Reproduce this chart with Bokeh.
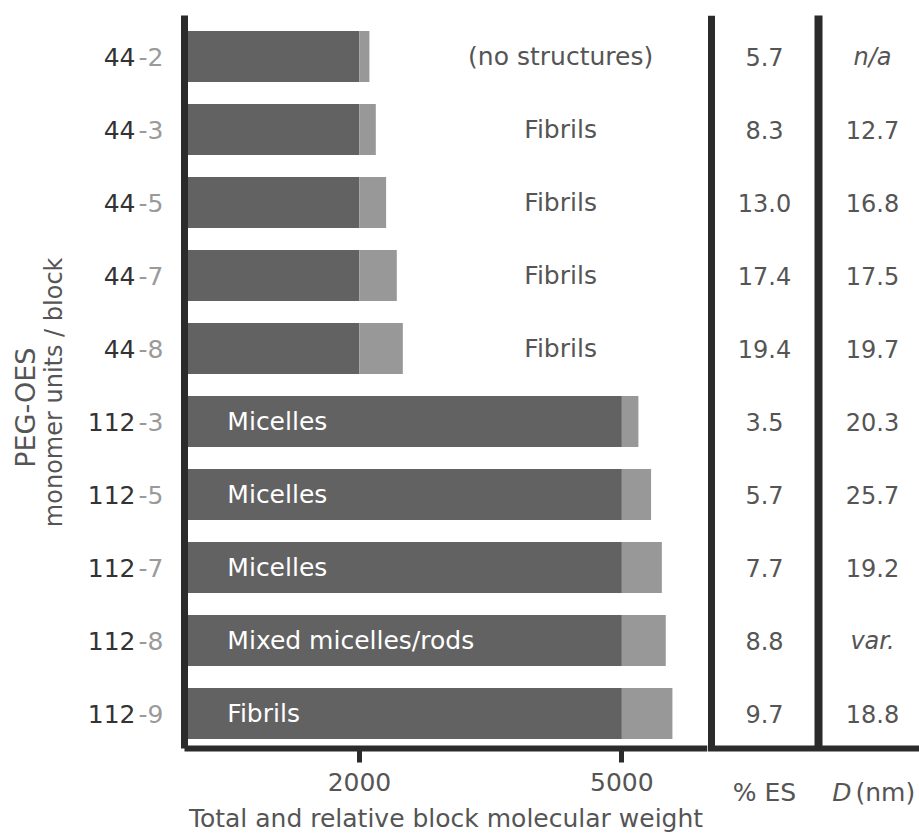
from math import pi
from bokeh.plotting import figure
from bokeh.layouts import row
from bokeh.models import Range1d, FixedTicker, LinearAxis
from bokeh.core.properties import value
from bokeh.embed import file_html
from bokeh.resources import INLINE

# ---------------- data ----------------
peg_units = ["44", "44", "44", "44", "44", "112", "112", "112", "112", "112"]
oes_units = ["-2", "-3", "-5", "-7", "-8", "-3", "-5", "-7", "-8", "-9"]
peg_mw = [2000, 2000, 2000, 2000, 2000, 5000, 5000, 5000, 5000, 5000]
oes_mw = [114, 187, 305, 427, 496, 189, 334, 457, 502, 578]
structures = ["(no structures)", "Fibrils", "Fibrils", "Fibrils", "Fibrils",
              "Micelles", "Micelles", "Micelles", "Mixed micelles/rods", "Fibrils"]
pct_es = ["5.7", "8.3", "13.0", "17.4", "19.4", "3.5", "5.7", "7.7", "8.8", "9.7"]
diameter = ["n/a", "12.7", "16.8", "17.5", "19.7", "20.3", "25.7", "19.2", "var.", "18.8"]
diameter_italic = [True, False, False, False, False, False, False, False, True, False]
x_ticks = [2000, 5000]

# ---------------- style / layout ----------------
FONT = "DejaVu Sans"
DARK = "#626262"
LIGHT = "#989898"
INK = "#2b2b2b"
TXT = "#555555"

n = len(peg_mw)
rows = list(range(n))
total = [a + b for a, b in zip(peg_mw, oes_mw)]

TOP, FRAME_H, BOTTOM = 15, 733, 90
Y_TOP, Y_BOT = -0.562, 9.479
PX_PER_ROW = FRAME_H / (Y_BOT - Y_TOP)
y_rng = Range1d(Y_BOT, Y_TOP)

common = dict(output_backend="svg", toolbar_location=None, frame_height=FRAME_H,
              min_border_top=TOP, min_border_bottom=BOTTOM, y_range=y_rng)


def clean(fig):
    fig.outline_line_color = None
    fig.xgrid.visible = False
    fig.ygrid.visible = False


# ---- left strip: y-axis title ----
LW = 80
left = figure(frame_width=LW, x_range=Range1d(0, LW), min_border_left=0,
              min_border_right=0, x_axis_type=None, y_axis_type=None, **common)
left.outline_line_color = None
left.text(x=[25], y=[4.81], text=["PEG-OES"], angle=pi / 2, text_align="center",
          text_baseline="middle", text_font=value(FONT), text_font_size="27px",
          text_color=TXT)
left.text(x=[53], y=[4.6], text=["monomer units / block"], angle=pi / 2,
          text_align="center", text_baseline="middle", text_font=value(FONT),
          text_font_size="24px", text_color=TXT)

# ---- main bar chart ----
X_END = 5979
p = figure(frame_width=523, x_range=Range1d(0, X_END), min_border_left=104,
           min_border_right=0, **common)
clean(p)

p.hbar(y=rows, left=0, right=peg_mw, height=0.70, fill_color=DARK, line_color=None)
p.hbar(y=rows, left=peg_mw, right=total, height=0.70, fill_color=LIGHT, line_color=None)

out_idx = [i for i in rows if peg_mw[i] < 3000]
in_idx = [i for i in rows if peg_mw[i] >= 3000]
p.text(x=[4300] * len(out_idx), y=[rows[i] for i in out_idx],
       text=[structures[i] for i in out_idx], text_align="center",
       text_baseline="middle", text_font=value(FONT), text_font_size="25px",
       text_color=TXT)
p.text(x=[490] * len(in_idx), y=[rows[i] for i in in_idx],
       text=[structures[i] for i in in_idx], text_align="left",
       text_baseline="middle", text_font=value(FONT), text_font_size="25px",
       text_color="white")

p.xaxis.ticker = FixedTicker(ticks=x_ticks)
p.xaxis.minor_tick_line_color = None
p.xaxis.major_tick_in = 0
p.xaxis.major_tick_out = 14
p.xaxis.major_tick_line_width = 5
p.xaxis.major_tick_line_color = INK
p.xaxis.axis_line_width = 6
p.xaxis.axis_line_color = INK
p.xaxis.major_label_standoff = 10
p.xaxis.major_label_text_font = FONT
p.xaxis.major_label_text_font_size = "25px"
p.xaxis.major_label_text_color = TXT
p.xaxis.axis_label = "Total and relative block molecular weight"
p.xaxis.axis_label_standoff = 10
p.xaxis.axis_label_text_font = FONT
p.xaxis.axis_label_text_font_size = "25px"
p.xaxis.axis_label_text_font_style = "normal"
p.xaxis.axis_label_text_color = TXT

# inner y axis: OES part of labels (light)
p.yaxis.ticker = FixedTicker(ticks=rows)
p.yaxis.major_label_overrides = {i: oes_units[i] for i in rows}
p.yaxis.minor_tick_line_color = None
p.yaxis.major_tick_line_color = None
p.yaxis.major_tick_in = 0
p.yaxis.major_tick_out = 0
p.yaxis.major_label_standoff = 21
p.yaxis.major_label_text_font = FONT
p.yaxis.major_label_text_font_size = "25px"
p.yaxis.major_label_text_color = "#9a9a9a"
p.yaxis.axis_line_width = 7
p.yaxis.axis_line_color = INK

# outer y axis: PEG part of labels (dark)
outer = LinearAxis(ticker=FixedTicker(ticks=rows),
                   major_label_overrides={i: peg_units[i] for i in rows},
                   axis_line_color=None, major_tick_line_color=None,
                   minor_tick_line_color=None, major_tick_in=0, major_tick_out=0,
                   major_label_standoff=0, major_label_text_font=FONT,
                   major_label_text_font_size="25px",
                   major_label_text_color="#333333")
p.add_layout(outer, "left")

# ---- table columns (frame runs to the bottom so headers are drawn inside it) ----
TW = 212
T_FRAME_H = FRAME_H + BOTTOM
t = figure(output_backend="svg", toolbar_location=None, frame_width=TW,
           frame_height=T_FRAME_H, min_border_top=TOP, min_border_bottom=0,
           min_border_left=0, min_border_right=0,
           x_range=Range1d(0, TW),
           y_range=Range1d(Y_TOP + T_FRAME_H / PX_PER_ROW, Y_TOP),
           x_axis_type=None, y_axis_type=None)
clean(t)
ES_X, D_X = 57, 165
SEP1, SEP2 = 4, 111
HEAD_Y = Y_BOT + 0.6

# column separators and continuation of the baseline
t.segment(x0=[SEP1, SEP2], y0=[Y_TOP, Y_TOP - 0.05], x1=[SEP1, SEP2], y1=[Y_BOT, Y_BOT],
          line_color=INK, line_width=[7, 8])
t.segment(x0=[0], y0=[Y_BOT], x1=[TW], y1=[Y_BOT], line_color=INK, line_width=6)

t.text(x=[ES_X] * n, y=rows, text=pct_es, text_align="center",
       text_baseline="middle", text_font=value(FONT), text_font_size="24px",
       text_color=TXT)
norm = [i for i in rows if not diameter_italic[i]]
ital = [i for i in rows if diameter_italic[i]]
t.text(x=[D_X] * len(norm), y=[rows[i] for i in norm], text=[diameter[i] for i in norm],
       text_align="center", text_baseline="middle", text_font=value(FONT),
       text_font_size="24px", text_color=TXT)
t.text(x=[D_X] * len(ital), y=[rows[i] for i in ital], text=[diameter[i] for i in ital],
       text_align="center", text_baseline="middle", text_font=value(FONT),
       text_font_size="24px", text_font_style="italic", text_color=TXT)

# column headers
t.text(x=[ES_X], y=[HEAD_Y], text=["% ES"], text_align="center", text_baseline="middle",
       text_font=value(FONT), text_font_size="25px", text_color=TXT)
t.text(x=[144], y=[HEAD_Y], text=["D"], text_align="right", text_baseline="middle",
       text_font=value(FONT), text_font_size="25px", text_font_style="italic",
       text_color=TXT)
t.text(x=[148], y=[HEAD_Y], text=["(nm)"], text_align="left", text_baseline="middle",
       text_font=value(FONT), text_font_size="25px", text_color=TXT)

layout = row(left, p, t)
open("out.html", "w").write(file_html(layout, INLINE))
